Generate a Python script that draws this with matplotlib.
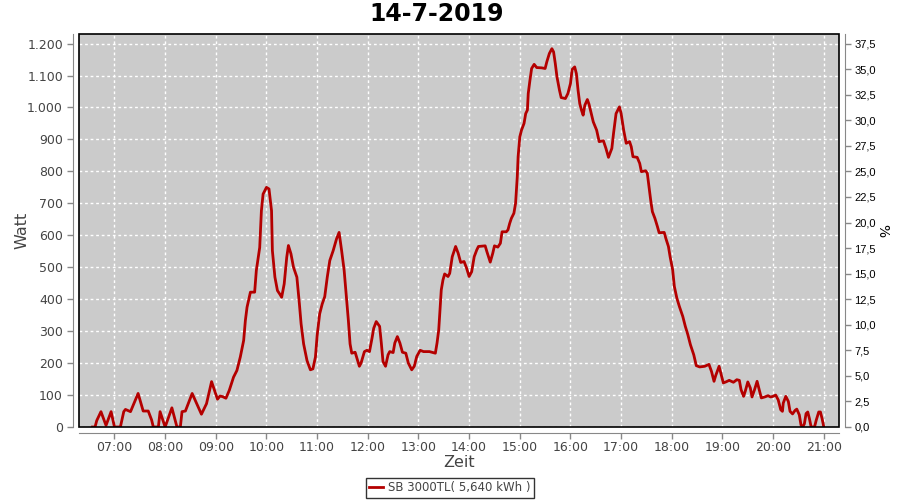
import numpy as np
import matplotlib
matplotlib.use("Agg")
import matplotlib.pyplot as plt
from matplotlib.patches import Rectangle
from matplotlib.ticker import FuncFormatter, MultipleLocator

## data ##
zeit = ["06:34", "06:37", "06:39", "06:44", "06:50", "06:56", "07:00", "07:07", "07:11", "07:13",
        "07:19", "07:28", "07:34", "07:40", "07:44", "07:46", "07:52", "07:54", "08:00", "08:08",
        "08:14", "08:18", "08:20", "08:24", "08:32", "08:43", "08:49", "08:55", "09:02", "09:05",
        "09:08", "09:12", "09:16", "09:21", "09:25", "09:29", "09:33", "09:35", "09:37", "09:41",
        "09:46", "09:48", "09:52", "09:54", "09:56", "10:00", "10:03", "10:06", "10:07", "10:10",
        "10:13", "10:16", "10:18", "10:21", "10:24", "10:26", "10:29", "10:32", "10:36", "10:39",
        "10:41", "10:44", "10:48", "10:52", "10:55", "10:58", "11:00", "11:03", "11:06", "11:09",
        "11:12", "11:15", "11:19", "11:23", "11:26", "11:29", "11:32", "11:34", "11:37", "11:39",
        "11:41", "11:45", "11:48", "11:50", "11:52", "11:56", "11:59", "12:02", "12:05", "12:07",
        "12:10", "12:14", "12:16", "12:18", "12:21", "12:24", "12:26", "12:30", "12:32", "12:35",
        "12:38", "12:41", "12:45", "12:48", "12:52", "12:55", "12:58", "13:02", "13:06", "13:13",
        "13:17", "13:20", "13:22", "13:24", "13:25", "13:27", "13:29", "13:31", "13:35", "13:37",
        "13:40", "13:44", "13:47", "13:50", "13:54", "13:57", "14:00", "14:03", "14:06", "14:09",
        "14:11", "14:19", "14:21", "14:25", "14:28", "14:30", "14:34", "14:37", "14:39", "14:44",
        "14:46", "14:48", "14:50", "14:53", "14:55", "14:57", "14:58", "15:00", "15:02", "15:05",
        "15:07", "15:09", "15:10", "15:12", "15:14", "15:17", "15:20", "15:26", "15:30", "15:32",
        "15:35", "15:38", "15:40", "15:42", "15:44", "15:47", "15:49", "15:54", "15:57", "16:00",
        "16:02", "16:05", "16:07", "16:09", "16:11", "16:13", "16:15", "16:17", "16:20", "16:22",
        "16:27", "16:31", "16:34", "16:39", "16:42", "16:45", "16:49", "16:51", "16:54", "16:58",
        "17:00", "17:03", "17:06", "17:10", "17:12", "17:14", "17:19", "17:22", "17:24", "17:29",
        "17:31", "17:33", "17:35", "17:37", "17:40", "17:43", "17:45", "17:51", "17:53", "17:56",
        "17:58", "18:01", "18:03", "18:06", "18:09", "18:13", "18:16", "18:19", "18:22", "18:26",
        "18:29", "18:33", "18:39", "18:44", "18:47", "18:50", "18:52", "18:56", "18:58", "19:01",
        "19:04", "19:08", "19:13", "19:17", "19:20", "19:22", "19:25", "19:27", "19:30", "19:33",
        "19:35", "19:38", "19:41", "19:43", "19:46", "19:50", "19:54", "19:57", "20:00", "20:03",
        "20:06", "20:09", "20:11", "20:12", "20:15", "20:18", "20:20", "20:23", "20:26", "20:28",
        "20:31", "20:33", "20:35", "20:37", "20:39", "20:41", "20:43", "20:45", "20:49", "20:51",
        "20:54", "20:56", "20:58", "21:00"]
watt = [0, 0, 20, 48, 5, 48, 0, 0, 48, 55,
        48, 105, 50, 50, 22, 0, 0, 48, 0, 60,
        0, 0, 48, 50, 105, 40, 73, 142, 87, 97,
        95, 90, 115, 156, 177, 219, 271, 333, 375, 422,
        422, 490, 562, 677, 729, 750, 745, 677, 552, 469,
        427, 415, 406, 448, 531, 568, 542, 500, 469, 385,
        323, 260, 208, 179, 182, 219, 286, 354, 385, 408,
        469, 521, 552, 589, 609, 552, 490, 427, 333, 260,
        231, 234, 208, 190, 200, 236, 240, 236, 278, 309,
        330, 315, 263, 205, 190, 226, 236, 233, 263, 283,
        263, 234, 231, 200, 179, 190, 221, 240, 236, 236,
        233, 231, 263, 304, 346, 429, 460, 479, 471, 481,
        533, 565, 544, 515, 518, 497, 471, 486, 533, 554,
        565, 567, 549, 516, 544, 567, 563, 575, 611, 611,
        617, 637, 653, 669, 700, 783, 846, 908, 929, 950,
        981, 992, 1044, 1085, 1122, 1135, 1125, 1124, 1122, 1143,
        1169, 1184, 1174, 1138, 1096, 1054, 1031, 1028, 1044, 1075,
        1119, 1127, 1106, 1054, 1012, 992, 976, 1007, 1025, 1010,
        955, 929, 893, 896, 872, 844, 872, 919, 981, 1002,
        981, 929, 888, 893, 877, 846, 844, 825, 799, 802,
        794, 752, 710, 674, 653, 627, 608, 609, 590, 565,
        533, 492, 440, 403, 377, 346, 315, 289, 258, 226,
        192, 188, 190, 196, 174, 143, 161, 190, 169, 138,
        141, 146, 140, 148, 146, 117, 96, 112, 141, 122,
        94, 117, 143, 122, 91, 94, 98, 94, 96, 100,
        85, 54, 49, 75, 96, 80, 49, 41, 52, 56,
        38, 6, 0, 10, 42, 47, 26, 0, 0, 21,
        47, 47, 26, 0]

stunden = list(range(7, 22))
titel = "14-7-2019"
legende = "SB 3000TL( 5,640 kWh )"

## umrechnung ##
t = np.array([int(z[:2]) + int(z[3:]) / 60 for z in zeit])
w = np.array(watt)
wmax = 1230
wprozent = 32.0  # 100 % = 3200 W

fig = plt.figure(figsize=(9, 5), dpi=100)
ax = fig.add_axes([79/900, 1-427/500, 760/900, 393/500])
ax.set_facecolor("#cbcbcb")

ax.plot(t, w, color="#b40000", lw=2, zorder=3, label=legende)

ax.set_xlim(6.30, 21.30)
ax.set_ylim(0, wmax)
ax.set_xticks(stunden)
ax.set_xticklabels(["%02d:00" % h for h in stunden])
ax.yaxis.set_major_locator(MultipleLocator(100))
ax.yaxis.set_major_formatter(FuncFormatter(lambda v, p: format(int(v), ",").replace(",", ".")))
ax.grid(True, color="white", lw=1, ls=(0, (2, 2)), zorder=1)
ax.set_axisbelow(True)

for s in ["top", "right"]:
    ax.spines[s].set_visible(False)
for s in ["left", "bottom"]:
    ax.spines[s].set_position(("outward", 4))
    ax.spines[s].set_color("#888888")
ax.tick_params(colors="#888888", labelcolor="#444444", labelsize=9, length=4, width=1)
ax.tick_params(axis="x", pad=2)
ax.add_patch(Rectangle((0, 0), 1, 1, transform=ax.transAxes, fill=False,
                       ec="black", lw=1.2, zorder=4, clip_on=False))

ax.set_ylabel("Watt", fontsize=11.5, color="#444444", va="center")
ax.yaxis.set_label_coords(-0.075, 0.5)
ax.set_xlabel("Zeit", fontsize=11.5, color="#444444", labelpad=1)

ax2 = ax.twinx()
ax2.set_ylim(0, wmax / wprozent)
ax2.yaxis.set_major_locator(MultipleLocator(2.5))
ax2.yaxis.set_major_formatter(FuncFormatter(lambda v, p: ("%.1f" % v).replace(".", ",")))
for s in ["top", "left", "bottom"]:
    ax2.spines[s].set_visible(False)
ax2.spines["right"].set_position(("outward", 4))
ax2.spines["right"].set_color("#888888")
ax2.tick_params(colors="#888888", labelcolor="black", labelsize=8, length=4, width=1, pad=3)
for lab in ax2.get_yticklabels():
    lab.set_fontfamily("Liberation Sans")
ax2.set_ylabel("%", fontsize=10, rotation=-90, va="center")
ax2.yaxis.set_label_coords(1.057, 0.5)

fig.text(0.485, 0.972, titel, fontsize=17, fontweight="bold", ha="center", va="center")

leg = fig.legend(*ax.get_legend_handles_labels(), loc="center", bbox_to_anchor=(0.5, 0.024),
                 fontsize=8.5, frameon=True, fancybox=False, edgecolor="black",
                 handlelength=1.2, handletextpad=0.4, borderpad=0.3, borderaxespad=0)
leg.get_frame().set_linewidth(1)
for txt in leg.get_texts():
    txt.set_color("#444444")

fig.savefig("out.png", dpi=100)
